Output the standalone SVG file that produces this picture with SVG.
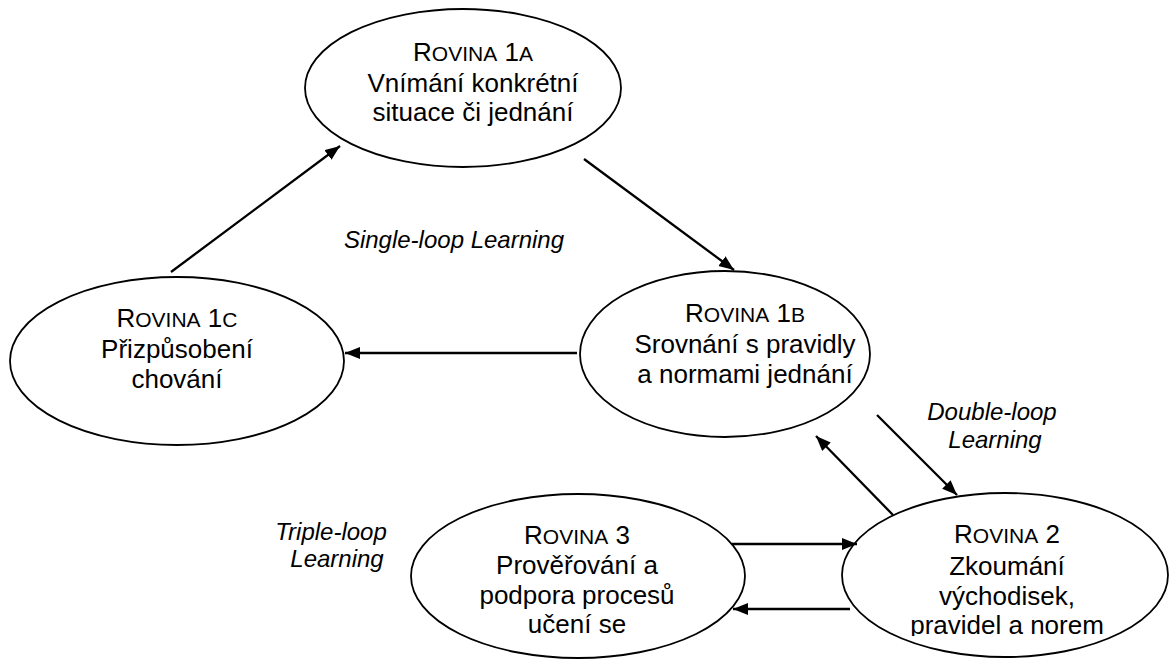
<svg xmlns="http://www.w3.org/2000/svg" width="1170" height="659" viewBox="0 0 1170 659">
<style>
.n{fill:#fff;stroke:#000;stroke-width:1.8}
.t{font-family:"Liberation Sans",Arial,sans-serif;font-size:26px;fill:#000;text-anchor:middle}
.sc{font-size:21px}
.l{font-family:"Liberation Sans",Arial,sans-serif;font-size:24px;font-style:italic;fill:#000;text-anchor:middle}
.c line{stroke:#000;stroke-width:2.3;marker-end:url(#ah)}
</style>
<defs>
<marker id="ah" markerUnits="userSpaceOnUse" markerWidth="16" markerHeight="14" refX="15" refY="6" orient="auto">
<path d="M0,0 L15,6 L0,12 Z" fill="#000"/>
</marker>
<clipPath id="clip2"><rect x="830" y="490" width="340" height="146"/></clipPath>
</defs>
<rect width="1170" height="659" fill="#fff"/>
<g id="n1a">
<ellipse class="n" cx="463" cy="88" rx="158" ry="79"/>
<text class="t" x="473" y="61">R<tspan class="sc">OVINA</tspan> 1<tspan class="sc">A</tspan></text>
<text class="t" x="473" y="92">Vnímání konkrétní</text>
<text class="t" x="473" y="121">situace či jednání</text>
</g>
<g id="n1c">
<ellipse class="n" cx="177" cy="361" rx="167" ry="84"/>
<text class="t" x="177" y="327">R<tspan class="sc">OVINA</tspan> 1<tspan class="sc">C</tspan></text>
<text class="t" x="177" y="358">Přizpůsobení</text>
<text class="t" x="177" y="388">chování</text>
</g>
<g id="n1b">
<ellipse class="n" cx="725" cy="354" rx="145" ry="83"/>
<text class="t" x="745" y="322">R<tspan class="sc">OVINA</tspan> 1<tspan class="sc">B</tspan></text>
<text class="t" x="745" y="353">Srovnání s pravidly</text>
<text class="t" x="745" y="383">a normami jednání</text>
</g>
<g id="n2">
<ellipse class="n" cx="1005" cy="575" rx="163" ry="82"/>
<g clip-path="url(#clip2)">
<text class="t" x="1007" y="543">R<tspan class="sc">OVINA</tspan> 2</text>
<text class="t" x="1007" y="575">Zkoumání</text>
<text class="t" x="1007" y="605">východisek,</text>
<text class="t" x="1007" y="634">pravidel a norem</text>
</g>
</g>
<g id="n3">
<ellipse class="n" cx="578" cy="576" rx="167" ry="82"/>
<text class="t" x="577" y="544">R<tspan class="sc">OVINA</tspan> 3</text>
<text class="t" x="577" y="574">Prověřování a</text>
<text class="t" x="577" y="604">podpora procesů</text>
<text class="t" x="577" y="633">učení se</text>
</g>
<g id="labels">
<text class="l" x="454" y="248">Single-loop Learning</text>
<text class="l" x="992" y="420">Double-loop</text>
<text class="l" x="995" y="448">Learning</text>
<text class="l" x="331" y="540">Triple-loop</text>
<text class="l" x="337" y="567">Learning</text>
</g>
<g id="connectors" class="c">
<line x1="171" y1="272" x2="340" y2="146"/>
<line x1="584" y1="159" x2="734" y2="270"/>
<line x1="577" y1="353" x2="345" y2="353"/>
<line x1="877" y1="415" x2="957" y2="495"/>
<line x1="893" y1="515" x2="816" y2="436"/>
<line x1="732" y1="544" x2="857" y2="544"/>
<line x1="850" y1="609" x2="733" y2="609"/>
</g>
</svg>
